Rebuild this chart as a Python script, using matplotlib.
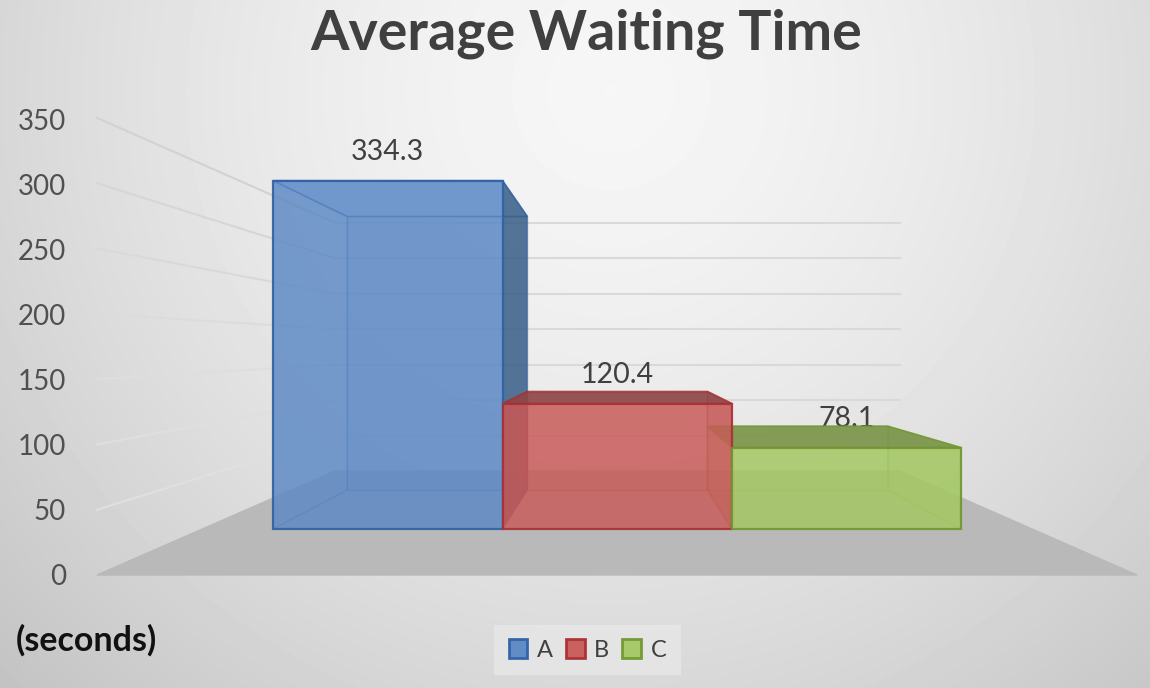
import matplotlib
matplotlib.use("Agg")
import matplotlib.pyplot as plt
from matplotlib.patches import Patch
import numpy as np

categories = ["A", "B", "C"]
waiting = [334.3, 120.4, 78.1]
y_ticks = [0, 50, 100, 150, 200, 250, 300, 350]

front_colors = ["#5a87c4", "#c85a58", "#a4c862"]
top_colors = ["#d8e6f8", "#8e4646", "#7a9448"]
side_colors = ["#3a5f88", "#a84444", "#9dc25c"]
left_alpha = [0.0, 0.35, 0.2]
edge_colors = ["#2f62a4", "#a93034", "#70982f"]

plt.rcParams['font.family'] = ['Lato', 'DejaVu Sans']


# fake 3d: u goes left to right over the floor, t goes from front (0) to back wall (1)
def project(u, v, t):
    left = 97 + 238 * t
    right = 1137 - 237 * t
    x = left + u * (right - left)
    y = 575 - 104 * t - v * (1.306 - 0.597 * t)
    return x, y


def face(ax, pts, color, alpha, edge, z, lw=1.5, edge_alpha=1.0):
    xs = [p[0] for p in pts]
    ys = [p[1] for p in pts]
    ax.fill(xs, ys, facecolor=color, alpha=alpha, edgecolor="none", zorder=z)
    ax.fill(xs, ys, facecolor="none", edgecolor=edge, linewidth=lw, alpha=edge_alpha, zorder=z + 0.01)


fig = plt.figure(figsize=(11.5, 6.88), dpi=100)
ax = fig.add_axes([0, 0, 1, 1])
ax.set_xlim(0, 1150)
ax.set_ylim(688, 0)
ax.axis("off")

# background
gx, gy = np.meshgrid(np.arange(0, 1150, 2), np.arange(0, 688, 2))
dist = np.sqrt(((gx - 610) / 850) ** 2 + ((gy - 90) / 850) ** 2)
bg = np.clip(0.965 - 0.2 * dist ** 1.5, 0, 1)
ax.imshow(bg, cmap="gray", vmin=0, vmax=1, extent=(0, 1150, 688, 0), aspect="auto", zorder=0)

# floor
floor = [project(0, 0, 0), project(1, 0, 0), project(1, 0, 1), project(0, 0, 1)]
ax.fill([p[0] for p in floor], [p[1] for p in floor], color="#b9b9b9", zorder=1)

# walls
wall_colors = ["#e0e0e0", "#dfdfdf", "#dedede", "#dcdcdc", "#d9d9d9", "#d6d6d6", "#d2d2d2"]
for tick, col in zip(y_ticks[1:], wall_colors):
    a = project(0, tick, 0)
    b = project(0, tick, 1)
    c = project(1, tick, 1)
    ax.plot([a[0], b[0]], [a[1], b[1]], color=col, lw=1.5, zorder=1.2)
    ax.plot([b[0], c[0]], [b[1], c[1]], color="#d9d9d9", lw=1.5, zorder=1.2)

for tick in y_ticks:
    x, y = project(0, tick, 0)
    y_lab = 575 - (575 - y) * 0.995
    ax.text(x - 31, y_lab + 2, str(tick), ha="right", va="center", fontsize=20, color="#505050", zorder=2)

# bars
t_front = 0.442
t_back = 0.817
margin = 0.0855
step = (1 - 2 * margin) / len(categories)

for i, val in enumerate(waiting):
    u0 = margin + i * step
    u1 = u0 + step
    fx, fy = project((u0 + u1) / 2, val, t_front)
    ax.text(fx, fy - 29, str(val), ha="center", va="center", fontsize=20.5, color="#404040", zorder=2)

    fl = project(u0, 0, t_front)
    fr = project(u1, 0, t_front)
    bl = project(u0, 0, t_back)
    br = project(u1, 0, t_back)
    ftl = project(u0, val, t_front)
    ftr = project(u1, val, t_front)
    btl = project(u0, val, t_back)
    btr = project(u1, val, t_back)

    edge = edge_colors[i]
    z = 3 + i * 0.3
    # back, floor and left side are only faintly visible
    face(ax, [bl, br, btr, btl], front_colors[i], 0.12, edge, z, lw=1, edge_alpha=0.4)
    face(ax, [fl, bl, btl, ftl], side_colors[i], left_alpha[i], edge, z, lw=1, edge_alpha=0.4)
    face(ax, [ftl, ftr, btr, btl], top_colors[i], 0.9, edge, z + 0.1, lw=1.2, edge_alpha=0.8)
    # the tall bar is seen from below, so its side covers the corner of the top
    side_z = z + 0.2 if i == 0 else z
    face(ax, [fr, br, btr, ftr], side_colors[i], 0.85 if i == 0 else 0.30, edge, side_z, lw=1, edge_alpha=0.4)

for i, val in enumerate(waiting):
    u0 = margin + i * step
    u1 = u0 + step
    pts = [project(u0, 0, t_front), project(u1, 0, t_front),
           project(u1, val, t_front), project(u0, val, t_front)]
    face(ax, pts, front_colors[i], 0.82, edge_colors[i], 5 + i * 0.2, lw=1.6, edge_alpha=0.9)

ax.text(586, 34, "Average Waiting Time", ha="center", va="center", fontsize=40,
        fontweight="bold", color="#404040", zorder=6)
ax.text(16, 640, "(seconds)", ha="left", va="center", fontsize=24.5, fontweight="bold",
        color="#111111", zorder=6)

handles = []
for i, name in enumerate(categories):
    handles.append(Patch(facecolor=front_colors[i], edgecolor=edge_colors[i], linewidth=2, label=name, alpha=0.95))
leg = ax.legend(handles=handles, loc="center", bbox_to_anchor=(587.5, 650), bbox_transform=ax.transData,
                ncol=3, fontsize=17, frameon=True, fancybox=False, handlelength=0.8, handleheight=0.85,
                handletextpad=0.4, columnspacing=0.55, borderpad=0.6, labelcolor="#404040")
leg.get_frame().set_facecolor("#e6e6e6")
leg.get_frame().set_edgecolor("none")
leg.get_frame().set_alpha(0.9)
leg.set_zorder(6)

fig.savefig("out.png", dpi=100)
